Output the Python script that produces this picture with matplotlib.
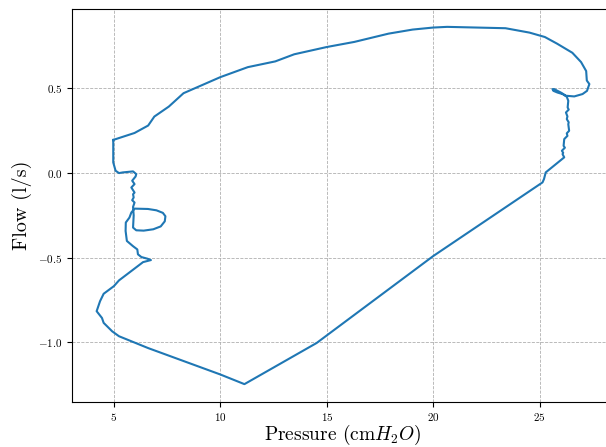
import matplotlib
matplotlib.use("Agg")
import matplotlib.pyplot as plt

plt.rcParams['font.family'] = 'serif'
plt.rcParams['font.serif'] = ['cmr10', 'DejaVu Serif']
plt.rcParams['mathtext.fontset'] = 'cm'
plt.rcParams['axes.formatter.use_mathtext'] = True

pressure = [4.97, 5.97, 6.61, 6.90, 7.58, 8.27, 10.0, 11.29, 12.58, 13.47, 15.0, 16.29, 17.90,
            19.03, 20.0, 20.65, 23.39, 24.52, 25.24, 25.81, 26.53, 26.94, 27.18, 27.21, 27.33,
            27.22, 27.01, 26.62, 26.23,
            25.99, 25.68, 25.60, 25.64, 25.83, 26.07, 26.27,
            26.34, 26.31, 26.36, 26.23, 26.30, 26.27, 26.36, 26.34, 26.38, 26.27, 26.30, 26.15,
            26.12, 26.18, 26.04, 26.10, 26.07, 26.15,
            25.28, 25.20, 25.13, 20.0, 14.52, 11.13,
            10.0, 6.61, 5.24, 4.92, 4.52, 4.44, 4.19, 4.35, 4.52, 4.68, 5.0, 5.24, 6.37, 6.74,
            6.58, 6.29, 6.13, 6.10, 5.89, 5.61, 5.55, 5.56, 5.73, 5.82, 5.97,
            6.6, 7.0, 7.3, 7.42, 7.39, 7.2, 6.85, 6.4, 6.05, 5.9, 5.93,
            5.90, 5.97, 5.86, 5.93, 5.90, 5.97, 5.82, 5.97, 5.86, 6.02, 6.05, 5.9, 5.42, 5.24,
            5.08, 4.97, 4.97]
flow = [0.196, 0.237, 0.281, 0.334, 0.393, 0.472, 0.567, 0.626, 0.660, 0.702, 0.745, 0.775, 0.824,
        0.848, 0.860, 0.864, 0.856, 0.830, 0.804, 0.765, 0.711, 0.656, 0.603, 0.547, 0.526,
        0.486, 0.467, 0.453, 0.457,
        0.476, 0.496, 0.496, 0.486, 0.476, 0.467, 0.451,
        0.427, 0.388, 0.375, 0.358, 0.335, 0.319, 0.300, 0.289, 0.250, 0.235, 0.220, 0.201,
        0.161, 0.150, 0.132, 0.120, 0.112, 0.093,
        0.004, -0.035, -0.055, -0.49, -1.004, -1.247,
        -1.19, -1.034, -0.964, -0.935, -0.885, -0.856, -0.816, -0.757, -0.713, -0.698, -0.668,
        -0.634, -0.526, -0.514,
        -0.506, -0.496, -0.48, -0.451, -0.431, -0.401, -0.342, -0.292, -0.263, -0.233, -0.21,
        -0.212, -0.220, -0.235, -0.255, -0.285, -0.315, -0.332, -0.340, -0.338, -0.322, -0.25,
        -0.2, -0.174, -0.160, -0.144, -0.125, -0.115, -0.085, -0.065, -0.045, -0.02, -0.006,
        0.01, 0.004, 0.0, 0.014, 0.063, 0.196]

fig = plt.figure(figsize=(6.06, 4.47), dpi=100)
ax = fig.add_axes([72 / 606, 45 / 447, 542 / 606, 393 / 447])
ax.plot(pressure, flow, color='#1f77b4', lw=1.5)
ax.grid(True, linestyle='--', color='#b0b0b0', lw=0.6)
ax.set_xticks([5, 10, 15, 20, 25])
ax.set_yticks([-1.0, -0.5, 0.0, 0.5])
ax.tick_params(labelsize=8)
ax.tick_params(axis='x', pad=3)
ax.set_xlabel(r'Pressure (cm$H_2O$)', fontsize=14, labelpad=0)
ax.set_ylabel('Flow (l/s)', fontsize=14.5)
fig.savefig('out.png', dpi=100)
